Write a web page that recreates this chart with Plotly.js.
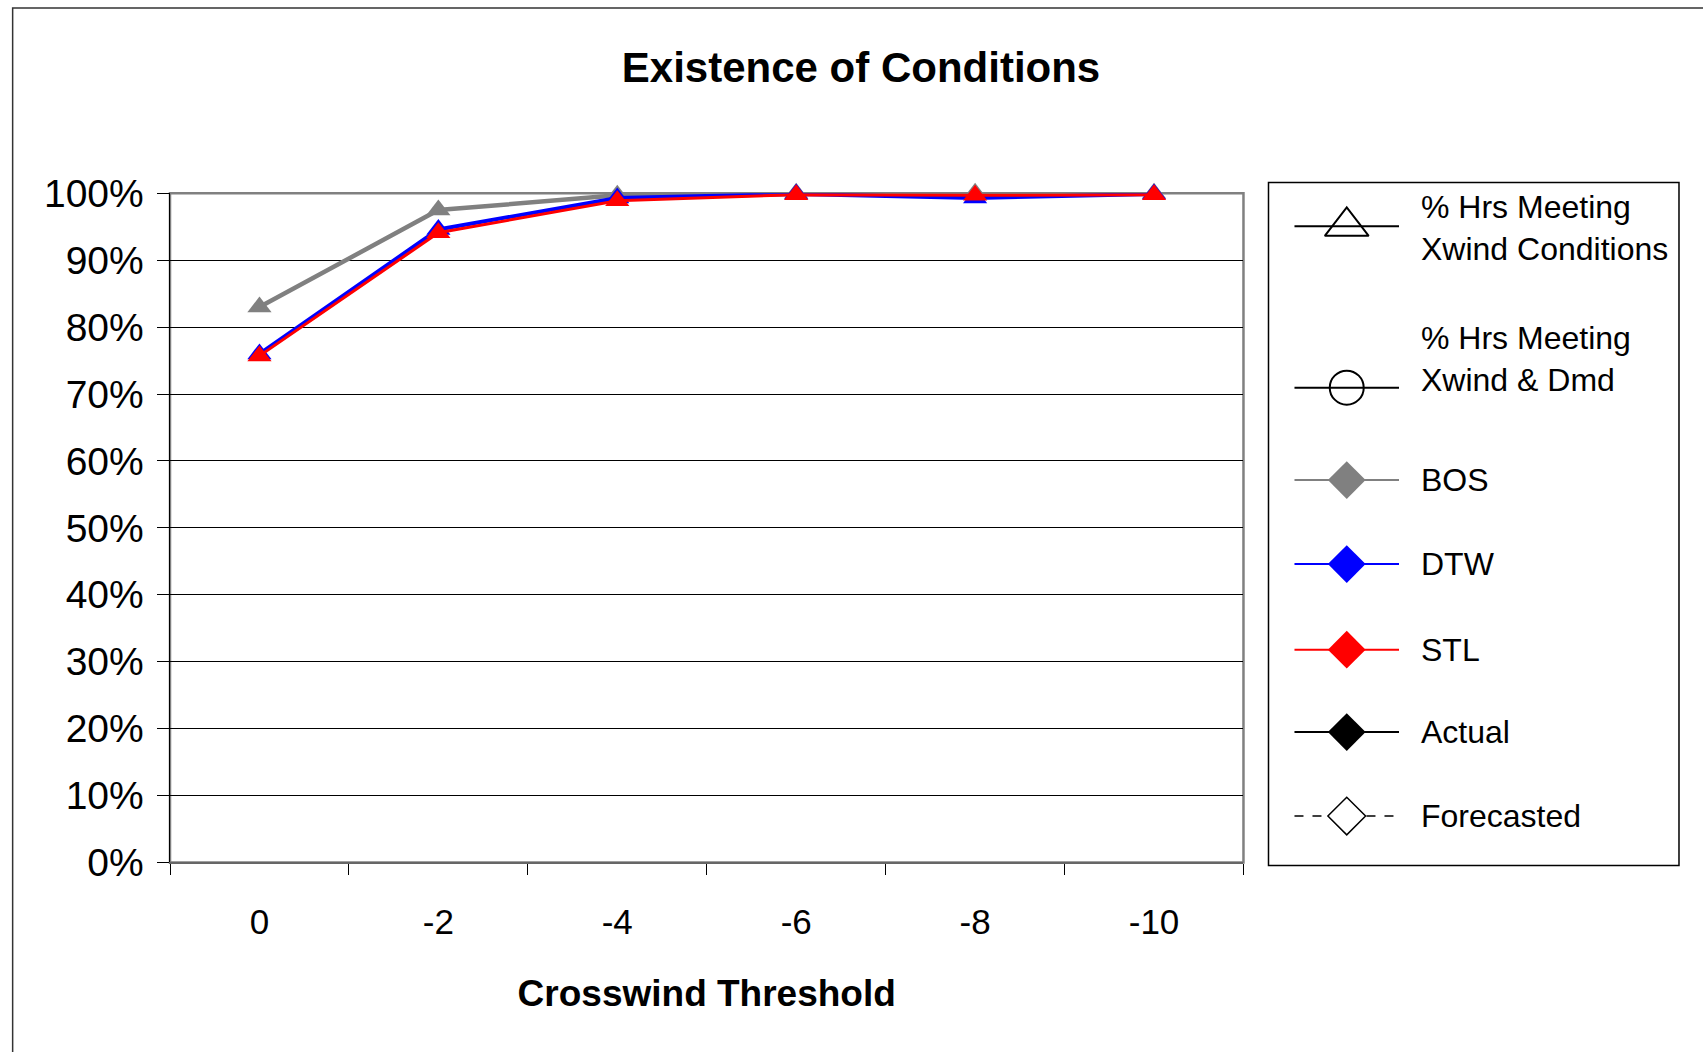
<!DOCTYPE html>
<html>
<head>
<meta charset="utf-8">
<script src="https://cdn.plot.ly/plotly-3.0.1.min.js"></script>
<style>
  html, body { margin: 0; padding: 0; background: #fff; }
  #chart { width: 1703px; height: 1052px; }
</style>
</head>
<body>
<div id="chart"></div>
<script>
// ---------- data ----------
const categories = ['0', '-2', '-4', '-6', '-8', '-10'];
const bosPct = [83.0, 97.5, 99.7, 100, 100, 100];
const dtwPct = [76.0, 94.6, 99.3, 99.9, 99.3, 99.9];
const stlPct = [75.7, 94.1, 98.9, 99.8, 99.7, 99.8];
const yTickValues = [0, 10, 20, 30, 40, 50, 60, 70, 80, 90, 100];
const legendNames = ['% Hrs Meeting<br>Xwind Conditions', '% Hrs Meeting<br>Xwind & Dmd',
                     'BOS', 'DTW', 'STL', 'Actual', 'Forecasted'];

// ---------- styles / layout constants ----------
const FONT = 'Liberation Sans, Arial, sans-serif';
const legendStyles = [
  {symbol: 'triangle-up-open', color: '#000', fill: '#000', size: 38, dash: 'solid', lw: 2},
  {symbol: 'circle-open', color: '#000', fill: '#000', size: 34, dash: 'solid', lw: 2},
  {symbol: 'diamond', color: '#808080', fill: '#808080', size: 29, dash: 'solid', lw: 2},
  {symbol: 'diamond', color: '#0000ff', fill: '#0000ff', size: 29, dash: 'solid', lw: 2},
  {symbol: 'diamond', color: '#ff0000', fill: '#ff0000', size: 29, dash: 'solid', lw: 2},
  {symbol: 'diamond', color: '#000', fill: '#000', size: 29, dash: 'solid', lw: 2},
  {symbol: 'diamond', color: '#000', fill: '#fff', size: 29, dash: 'dash', lw: 1.5}
];
const legendSymbolRows = [-1.02, 0.9, 2, 3, 4.02, 5, 6];
const legendLabelRows = [-1.0, 0.56, 2, 3, 4.02, 5, 6];
const sampleX = [0.0633, 0.1906, 0.3179];
const labelX = 0.3665;

// ---------- traces ----------
const traces = [
  {x: categories, y: bosPct, type: 'scatter', mode: 'lines+markers', name: 'BOS', cliponaxis: false,
   line: {color: '#808080', width: 4.5},
   marker: {symbol: 'triangle-up', size: 21, color: '#808080'}},
  {x: categories, y: dtwPct, type: 'scatter', mode: 'lines+markers', name: 'DTW', cliponaxis: false,
   line: {color: '#0000ff', width: 4},
   marker: {symbol: 'triangle-up', size: 21, color: '#0000ff'}},
  {x: categories, y: stlPct, type: 'scatter', mode: 'lines+markers', name: 'STL', cliponaxis: false,
   line: {color: '#ff0000', width: 3},
   marker: {symbol: 'triangle-up', size: 21, color: '#ff0000'}}
];

// custom legend glyphs drawn on a helper axis pair
const annotations = [];
legendNames.forEach((name, i) => {
  const st = legendStyles[i];
  const row = legendSymbolRows[i];
  traces.push({
    x: sampleX, y: sampleX.map(() => row), xaxis: 'x2', yaxis: 'y2',
    type: 'scatter', mode: 'lines', hoverinfo: 'skip', showlegend: false,
    line: {color: st.color, width: st.lw, dash: st.dash}
  });
  traces.push({
    x: [sampleX[1]], y: [row], xaxis: 'x2', yaxis: 'y2',
    type: 'scatter', mode: 'markers', hoverinfo: 'skip', showlegend: false,
    marker: {symbol: st.symbol, size: st.size, color: st.fill,
             line: {color: st.color, width: st.symbol.endsWith('open') ? 2 : (st.fill === '#fff' ? 1.5 : 0)}}
  });
  annotations.push({
    xref: 'x2', yref: 'y2', x: labelX, y: legendLabelRows[i],
    xanchor: 'left', yanchor: 'middle', align: 'left', showarrow: false,
    text: name, font: {family: FONT, size: 32, color: '#000'}
  });
});

const layout = {
  width: 1703, height: 1052,
  margin: {l: 170, r: 20, t: 150, b: 186, pad: 0},
  paper_bgcolor: '#fff', plot_bgcolor: '#fff',
  showlegend: false,
  title: {
    text: 'Existence of Conditions',
    font: {family: FONT, size: 42, color: '#000', weight: 'bold'},
    x: 0.5056, xanchor: 'center', xref: 'container',
    y: 1 - 67 / 1052, yanchor: 'middle', yref: 'container'
  },
  xaxis: {
    type: 'category', domain: [0, 0.7095], range: [-0.5, 5.5],
    showgrid: false, zeroline: false,
    showline: true, linecolor: '#666', linewidth: 2,
    ticks: 'outside', tickson: 'boundaries', ticklen: 11, tickcolor: '#000', tickwidth: 1,
    ticklabelstandoff: 28,
    tickfont: {family: FONT, size: 35, color: '#000'},
    title: {text: 'Crosswind Threshold', standoff: 40,
            font: {family: FONT, size: 37, color: '#000', weight: 'bold'}},
    automargin: false, fixedrange: true
  },
  yaxis: {
    domain: [0.00503, 0.93953], range: [0, 100],
    tickmode: 'array', tickvals: yTickValues, ticktext: yTickValues.map(v => v + '%'),
    showgrid: true, gridcolor: '#000', gridwidth: 1,
    zeroline: false,
    showline: true, linecolor: '#000', linewidth: 1.5,
    ticks: 'outside', ticklen: 12, tickcolor: '#000', tickwidth: 1,
    ticklabelstandoff: 5,
    tickfont: {family: FONT, size: 39, color: '#000'},
    automargin: false, fixedrange: true
  },
  xaxis2: {domain: [0.72604, 0.99735], range: [0, 1], visible: false, fixedrange: true, anchor: 'y2'},
  yaxis2: {domain: [0.00056, 0.95461], range: [6.59, -1.542], visible: false, fixedrange: true, anchor: 'x2'},
  annotations: annotations,
  shapes: [
    // outer chart frame
    {type: 'rect', xref: 'paper', yref: 'paper', x0: -0.104, x1: 1.2, y0: -0.4, y1: 1.1983,
     line: {color: '#333', width: 1.5}, fillcolor: 'rgba(0,0,0,0)', layer: 'below'},
    // plot area border
    {type: 'rect', xref: 'x domain', yref: 'y domain', x0: 0, x1: 1, y0: 0, y1: 1,
     line: {color: '#808080', width: 2.5}, fillcolor: 'rgba(0,0,0,0)', layer: 'below'},
    // legend box
    {type: 'rect', xref: 'x2 domain', yref: 'y2 domain', x0: 0, x1: 1, y0: 0, y1: 1,
     line: {color: '#000', width: 1.5}, fillcolor: 'rgba(0,0,0,0)', layer: 'below'}
  ]
};

Plotly.newPlot('chart', traces, layout, {displayModeBar: false, staticPlot: true});
</script>
</body>
</html>
